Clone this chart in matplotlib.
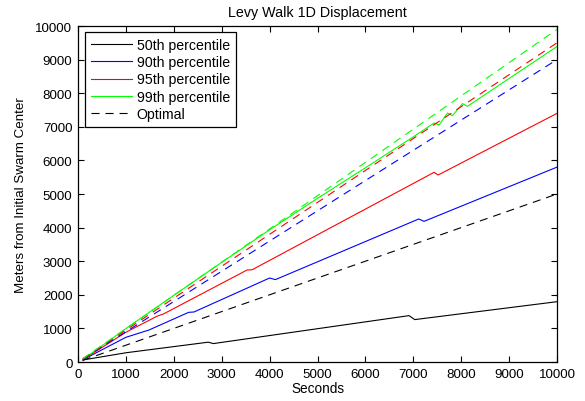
import matplotlib
matplotlib.use("Agg")
import matplotlib.pyplot as plt

# ---- data ----
t_50 = [100, 1000, 2720, 2825, 6911, 7030, 10000]
d_50 = [60, 275, 590, 548, 1380, 1262, 1795]

t_90 = [100, 1000, 1420, 1470, 2310, 2420, 4000, 4121, 7113, 7224, 10000]
d_90 = [65, 735, 925, 945, 1478, 1488, 2500, 2452, 4256, 4186, 5800]

t_95 = [100, 1000, 1646, 1785, 3530, 3635, 7434, 7518, 10000]
d_95 = [70, 885, 1360, 1430, 2738, 2745, 5645, 5565, 7400]

t_99 = [100, 1000, 2000, 3000, 4000, 5000, 6000, 7000, 7434, 7538, 7713, 7817, 8026, 8131, 10000]
d_99 = [75, 995, 1985, 2965, 3935, 4870, 5780, 6700, 7113, 7054, 7410, 7330, 7690, 7610, 9390]

t_opt = [100, 10000]
opt_50 = [50, 5000]
opt_90 = [90, 9000]
opt_95 = [95, 9500]
opt_99 = [99, 9900]

labels = ["50th percentile", "90th percentile", "95th percentile", "99th percentile", "Optimal"]
ticks = [0, 1000, 2000, 3000, 4000, 5000, 6000, 7000, 8000, 9000, 10000]

plt.rcParams['font.family'] = ['Liberation Sans', 'DejaVu Sans']
plt.rcParams['lines.scale_dashes'] = False

fig = plt.figure(figsize=(5.85, 4.02), dpi=100)
ax = fig.add_axes([78/585, 1-363/402, (557-78)/585, (363-27)/402])

lw = 0.8
dash = (0, (5.8, 4.3))
ax.plot(t_50, d_50, color='k', lw=lw, label=labels[0])
ax.plot(t_90, d_90, color=(0, 0, 1), lw=lw, label=labels[1])
ax.plot(t_95, d_95, color=(1, 0, 0), lw=lw, label=labels[2])
ax.plot(t_99, d_99, color=(0, 1, 0), lw=lw, label=labels[3])
ax.plot(t_opt, opt_50, color='k', lw=lw, linestyle=dash, label=labels[4])
ax.plot(t_opt, opt_90, color=(0, 0, 1), lw=lw, linestyle=dash)
ax.plot(t_opt, opt_95, color=(1, 0, 0), lw=lw, linestyle=dash)
ax.plot(t_opt, opt_99, color=(0, 1, 0), lw=lw, linestyle=dash)

ax.set_xlim(0, 10000)
ax.set_ylim(0, 10000)
ax.set_xticks(ticks)
ax.set_yticks(ticks)
ax.set_xticklabels([str(v) for v in ticks])
ax.set_yticklabels([str(v) for v in ticks])
ax.tick_params(direction='in', length=4.5, width=0.8, top=True, right=True,
               labelsize=9.6, pad=4, colors='k')
for s in ax.spines.values():
    s.set_linewidth(0.9)

ax.set_title("Levy Walk 1D Displacement", fontsize=10.3, pad=7)
ax.set_xlabel("Seconds", fontsize=9.8, labelpad=1)
ax.set_ylabel("Meters from Initial Swarm Center", fontsize=9.6, labelpad=6)

leg = ax.legend(loc='upper left', bbox_to_anchor=((85-78)/478, (363-33)/336),
                borderaxespad=0, fontsize=10.2, handlelength=2.95, handletextpad=0.3,
                labelspacing=0.24, borderpad=0.4, fancybox=False, framealpha=1,
                edgecolor='k')
leg.get_frame().set_linewidth(0.9)

fig.savefig("out.png", dpi=100)
